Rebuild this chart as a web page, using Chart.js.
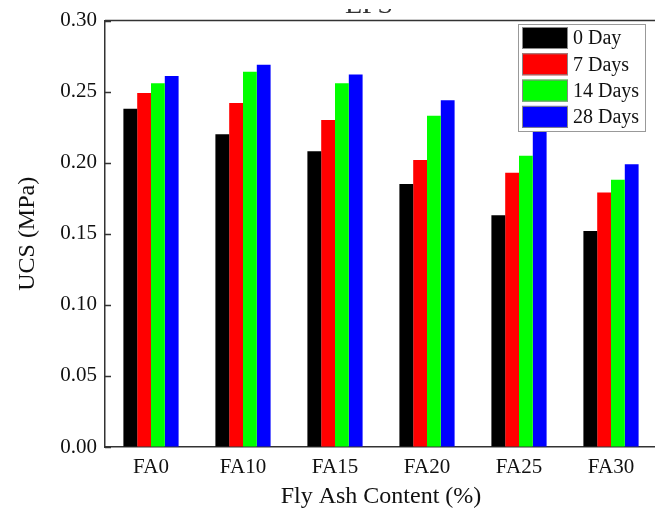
<!DOCTYPE html>
<html lang='en'>
<head>
  <meta charset='UTF-8'>
  <title>EPS UCS</title>
  <style>
    html, body { margin: 0; padding: 0; background: #fff; overflow: hidden; }
    #wrap { width: 660px; height: 511px; }
  </style>
  <script src="https://cdn.jsdelivr.net/npm/chart.js"></script>
</head>
<body>
  <div id='wrap'><canvas id='chart' width='660' height='511'></canvas></div>
  <script>
    const categories = ['FA0', 'FA10', 'FA15', 'FA20', 'FA25', 'FA30'];
    const seriesNames = ['0 Day', '7 Days', '14 Days', '28 Days'];
    const seriesColors = ['#000000', '#ff0000', '#00ff00', '#0000ff'];
    const day0 = [0.238, 0.220, 0.208, 0.185, 0.163, 0.152];
    const day7 = [0.249, 0.242, 0.230, 0.202, 0.193, 0.179];
    const day14 = [0.256, 0.264, 0.256, 0.233, 0.205, 0.188];
    const day28 = [0.261, 0.269, 0.262, 0.244, 0.228, 0.199];
    const yTicks = [0, 0.05, 0.10, 0.15, 0.20, 0.25, 0.30];

    const serif = "'Liberation Serif', 'Times New Roman', serif";
    const axisColor = '#333';

    // frame, inward ticks, cut-off title and boxed legend
    const decor = {
      id: 'decor',
      afterDatasetsDraw(chart) {
        const ctx = chart.ctx;
        const a = chart.chartArea;
        const y = chart.scales.y;
        ctx.save();
        ctx.strokeStyle = axisColor;
        ctx.lineWidth = 1.5;
        ctx.beginPath();
        ctx.moveTo(a.left, a.top);
        ctx.lineTo(a.right, a.top);
        ctx.lineTo(a.right, a.bottom);
        yTicks.forEach(v => {
          const py = Math.round(y.getPixelForValue(v)) + 0.5;
          ctx.moveTo(a.left, py);
          ctx.lineTo(a.left + 6, py);
        });
        ctx.stroke();

        // title is cropped in the source: only its lower edge shows
        ctx.save();
        ctx.beginPath();
        ctx.rect(0, 9, chart.width, 10);
        ctx.clip();
        ctx.fillStyle = '#333';
        ctx.font = '28px ' + serif;
        ctx.textAlign = 'center';
        ctx.textBaseline = 'alphabetic';
        ctx.fillText('EPS', 369, 13);
        ctx.restore();

        // legend
        const bx = 518, by = 24, bw = 127, bh = 107;
        ctx.fillStyle = '#fff';
        ctx.fillRect(bx, by, bw, bh);
        ctx.strokeStyle = '#999';
        ctx.lineWidth = 1;
        ctx.strokeRect(bx + 0.5, by + 0.5, bw, bh);
        ctx.font = '20px ' + serif;
        ctx.textAlign = 'left';
        ctx.textBaseline = 'middle';
        chart.data.datasets.forEach((ds, i) => {
          const ry = by + 3 + i * 26.3;
          ctx.fillStyle = ds.backgroundColor;
          ctx.fillRect(bx + 4, ry, 46, 22);
          ctx.strokeStyle = '#888';
          ctx.strokeRect(bx + 4.5, ry + 0.5, 45, 21);
          ctx.fillStyle = '#111';
          ctx.fillText(ds.label, bx + 55, ry + 12);
        });
        ctx.restore();
      }
    };

    const values = [day0, day7, day14, day28];
    const datasets = seriesNames.map((name, i) => ({
      label: name,
      data: values[i],
      backgroundColor: seriesColors[i],
      borderWidth: 0,
      categoryPercentage: 0.6,
      barPercentage: 1.0
    }));

    new Chart(document.getElementById('chart'), {
      type: 'bar',
      data: { labels: categories, datasets: datasets },
      options: {
        responsive: false,
        animation: false,
        layout: { padding: { top: 20, right: 3, left: 0, bottom: 0 } },
        plugins: { legend: { display: false }, tooltip: { enabled: false } },
        scales: {
          x: {
            grid: { display: true, drawOnChartArea: false, drawTicks: false },
            border: { display: true, color: axisColor, width: 1.5 },
            ticks: { color: '#111', padding: 8, font: { family: serif, size: 21 } },
            title: { display: true, text: 'Fly Ash Content (%)', color: '#111', padding: { top: 0, bottom: 0 }, font: { family: serif, size: 24 } },
            afterFit(scale) { scale.height = 64; }
          },
          y: {
            min: 0,
            max: 0.30,
            afterBuildTicks(scale) { scale.ticks = yTicks.map(v => ({ value: v })); },
            grid: { display: true, drawOnChartArea: false, drawTicks: false },
            border: { display: true, color: axisColor, width: 1.5 },
            ticks: { color: '#111', padding: 8, font: { family: serif, size: 21 }, callback: v => v.toFixed(2) },
            title: { display: true, text: 'UCS (MPa)', color: '#111', padding: { top: 13, bottom: 0 }, font: { family: serif, size: 24 } },
            afterFit(scale) { scale.width = 105; }
          }
        }
      },
      plugins: [decor]
    });
  </script>
</body>
</html>
